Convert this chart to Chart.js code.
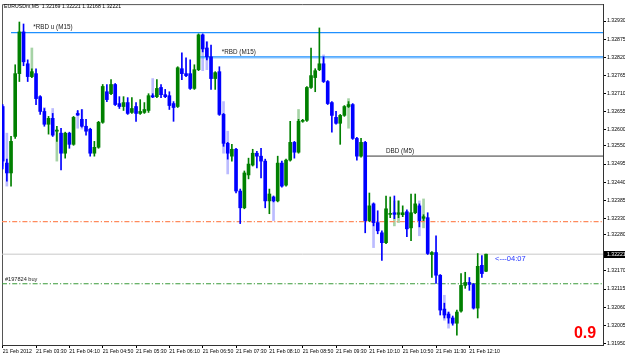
<!DOCTYPE html>
<html><head><meta charset="utf-8">
<script src="https://cdn.jsdelivr.net/npm/chart.js@4.4.1/dist/chart.umd.min.js"></script>
<style>html,body{margin:0;padding:0;background:#fff;}canvas{display:block;}</style>
</head><body>
<canvas id="c" width="625" height="356"></canvas>
<script>
// ---- data (EURUSDm, M5, 21 Feb 2012, bar index 0 = 02:50) ----
const openP  = [1.32670,1.32498,1.32468,1.32579,1.32770,1.32897,1.32800,1.32761,1.32770,1.32700,
1.32655,1.32616,1.32634,1.32595,1.32589,1.32528,1.32589,1.32555,1.32649,1.32631,
1.32610,1.32601,1.32528,1.32546,1.32622,1.32715,1.32709,1.32737,1.32679,1.32670,
1.32682,1.32652,1.32670,1.32649,1.32652,1.32658,1.32703,1.32700,1.32728,1.32706,
1.32703,1.32679,1.32670,1.32785,1.32770,1.32770,1.32725,1.32782,1.32888,1.32848,
1.32821,1.32755,1.32776,1.32646,1.32558,1.32519,1.32540,1.32413,1.32362,1.32462,
1.32492,1.32528,1.32519,1.32504,1.32383,1.32395,1.32383,1.32498,1.32431,1.32507,
1.32561,1.32531,1.32625,1.32628,1.32728,1.32758,1.32782,1.32800,1.32746,1.32682,
1.32637,1.32619,1.32643,1.32670,1.32676,1.32573,1.32519,1.32561,1.32323,1.32374,
1.32317,1.32286,1.32256,1.32342,1.32347,1.32342,1.32341,1.32350,1.32301,1.32347,
1.32368,1.32330,1.32332,1.32220,1.32226,1.32157,1.32054,1.32039,1.32027,1.32011,
1.32048,1.32126,1.32135,1.32129,1.32057,1.32187,1.32169];
const highP  = [1.32676,1.32510,1.32579,1.32797,1.32927,1.32921,1.32812,1.32785,1.32785,1.32703,
1.32664,1.32640,1.32649,1.32610,1.32604,1.32592,1.32592,1.32640,1.32658,1.32661,
1.32631,1.32604,1.32564,1.32625,1.32737,1.32737,1.32752,1.32740,1.32700,1.32700,
1.32697,1.32697,1.32682,1.32691,1.32682,1.32709,1.32709,1.32752,1.32737,1.32722,
1.32715,1.32685,1.32791,1.32833,1.32818,1.32812,1.32797,1.32891,1.32891,1.32867,
1.32857,1.32776,1.32791,1.32649,1.32561,1.32555,1.32543,1.32419,1.32474,1.32513,
1.32540,1.32534,1.32543,1.32510,1.32419,1.32398,1.32519,1.32504,1.32510,1.32625,
1.32564,1.32631,1.32631,1.32731,1.32848,1.32785,1.32909,1.32821,1.32749,1.32685,
1.32655,1.32646,1.32673,1.32685,1.32679,1.32576,1.32573,1.32564,1.32407,1.32377,
1.32353,1.32292,1.32398,1.32395,1.32398,1.32383,1.32368,1.32356,1.32404,1.32404,
1.32374,1.32341,1.32347,1.32229,1.32277,1.32159,1.32072,1.32045,1.32033,1.32051,
1.32162,1.32166,1.32150,1.32132,1.32223,1.32217,1.32221];
const lowP   = [1.32480,1.32443,1.32428,1.32573,1.32746,1.32794,1.32746,1.32758,1.32676,1.32646,
1.32610,1.32586,1.32579,1.32564,1.32477,1.32513,1.32543,1.32552,1.32643,1.32607,
1.32583,1.32519,1.32519,1.32543,1.32619,1.32685,1.32706,1.32673,1.32664,1.32658,
1.32646,1.32649,1.32625,1.32646,1.32649,1.32652,1.32697,1.32697,1.32697,1.32697,
1.32661,1.32625,1.32667,1.32752,1.32761,1.32722,1.32722,1.32779,1.32836,1.32812,
1.32722,1.32722,1.32643,1.32549,1.32510,1.32504,1.32407,1.32314,1.32359,1.32450,
1.32489,1.32483,1.32453,1.32362,1.32344,1.32380,1.32380,1.32425,1.32428,1.32504,
1.32513,1.32528,1.32622,1.32625,1.32725,1.32715,1.32779,1.32743,1.32676,1.32592,
1.32616,1.32555,1.32640,1.32667,1.32570,1.32507,1.32516,1.32286,1.32320,1.32307,
1.32283,1.32202,1.32253,1.32332,1.32329,1.32332,1.32335,1.32274,1.32262,1.32344,
1.32304,1.32323,1.32220,1.32150,1.32132,1.32036,1.32027,1.32011,1.32005,1.31975,
1.32045,1.32117,1.32111,1.32054,1.32027,1.32150,1.32168];
const closeP = [1.32504,1.32468,1.32564,1.32770,1.32897,1.32806,1.32761,1.32776,1.32694,1.32655,
1.32616,1.32634,1.32583,1.32598,1.32528,1.32589,1.32555,1.32637,1.32644,1.32610,
1.32595,1.32528,1.32546,1.32622,1.32731,1.32691,1.32737,1.32676,1.32670,1.32682,
1.32649,1.32664,1.32649,1.32655,1.32661,1.32703,1.32699,1.32725,1.32706,1.32700,
1.32673,1.32667,1.32788,1.32770,1.32764,1.32725,1.32782,1.32888,1.32845,1.32821,
1.32755,1.32773,1.32646,1.32558,1.32528,1.32540,1.32413,1.32362,1.32468,1.32495,
1.32528,1.32519,1.32504,1.32383,1.32404,1.32383,1.32498,1.32428,1.32507,1.32561,
1.32531,1.32625,1.32628,1.32728,1.32764,1.32779,1.32800,1.32746,1.32679,1.32643,
1.32619,1.32643,1.32670,1.32676,1.32573,1.32519,1.32561,1.32323,1.32368,1.32317,
1.32292,1.32256,1.32359,1.32344,1.32342,1.32347,1.32347,1.32298,1.32347,1.32374,
1.32323,1.32335,1.32223,1.32226,1.32157,1.32051,1.32036,1.32027,1.32011,1.32045,
1.32126,1.32135,1.32129,1.32057,1.32184,1.32162,1.32221];

// faint overlay candles
const ghostIdx  = [0,1,7,10,12,13,18,19,36,48,49,53,54,65,71,77,83,89,94,95,100,101,106,107];
const ghostHigh = [1.32573,1.32589,1.32848,1.32667,1.32664,1.32601,1.32655,1.32661,1.32755,1.32845,1.32867,1.32685,1.32595,1.32383,1.32661,1.32827,1.32694,1.32338,1.32383,1.32383,1.32383,1.32389,1.32096,1.32045];
const ghostLow  = [1.32489,1.32428,1.32761,1.32619,1.32625,1.32504,1.32604,1.32601,1.32700,1.32779,1.32782,1.32528,1.32465,1.32323,1.32534,1.32797,1.32604,1.32241,1.32307,1.32317,1.32277,1.32301,1.32020,1.31996];
const ghostBull = [0,0,1,0,0,1,0,0,0,0,0,0,0,0,1,0,1,0,1,1,0,1,0,0];

const timeLabels = ['21 Feb 2012','21 Feb 03:30','21 Feb 04:10','21 Feb 04:50','21 Feb 05:30','21 Feb 06:10','21 Feb 06:50','21 Feb 07:30','21 Feb 08:10','21 Feb 08:50','21 Feb 09:30','21 Feb 10:10','21 Feb 10:50','21 Feb 11:30','21 Feb 12:10'];
const timeTickIdx = [0,8,16,24,32,40,48,56,64,72,80,88,96,104,112];
const priceTicks = [1.32930,1.32875,1.32820,1.32765,1.32710,1.32655,1.32600,1.32550,1.32495,1.32440,1.32385,1.32330,1.32280,1.32170,1.32115,1.32060,1.32005,1.31950];

const rbdU = 1.32895, rbdUFrom = 2.0;
const rbd = 1.32821, rbdFrom = 47.4;
const dbd = 1.32519, dbdFrom = 87.2;
const orangeLevel = 1.32320;
const bidLevel = 1.32221;
const buyLevel = 1.32131;
const titleText = 'EURUSDm,M5  1.32169 1.32221 1.32168 1.32221';

// ---- chart ----
const X_MIN = -0.168, X_MAX = 144.07;
const GREEN = '#008000', BLUE = '#0000ff';
const idx = openP.map((_, i) => i);
const isBull = idx.map(i => closeP[i] >= openP[i]);

function hline(v, from, color, width, dash, order) {
  return { type: 'line', data: [{x: from, y: v}, {x: X_MAX, y: v}], borderColor: color,
    borderWidth: width, borderDash: dash || [], pointRadius: 0, order: order || 6, clip: false };
}

const FONT = '"Liberation Sans", Arial, sans-serif';
const annot = {
  id: 'annot',
  beforeDatasetsDraw(chart) {
    const {ctx, chartArea: a} = chart;
    ctx.save();
    ctx.strokeStyle = '#555'; ctx.lineWidth = 1;
    ctx.beginPath();
    ctx.moveTo(a.left + 0.5, a.bottom); ctx.lineTo(a.left + 0.5, a.top + 0.5); ctx.lineTo(a.right, a.top + 0.5);
    ctx.stroke();
    ctx.restore();
  },
  afterDatasetsDraw(chart) {
    const {ctx, scales: {x, y}, chartArea: a} = chart;
    ctx.save();
    ctx.textAlign = 'left'; ctx.textBaseline = 'middle';
    ctx.fillStyle = '#000';
    ctx.font = '5.2px ' + FONT;
    ctx.fillText(titleText, 4, 6.5);
    ctx.font = '6.3px ' + FONT;
    ctx.fillStyle = '#222';
    ctx.fillText('*RBD u (M15)', x.getPixelForValue(7.35), y.getPixelForValue(rbdU) - 5);
    ctx.fillText('*RBD (M15)', x.getPixelForValue(52.6), y.getPixelForValue(rbd) - 5);
    ctx.fillText('DBD (M5)', x.getPixelForValue(92), y.getPixelForValue(dbd) - 5);
    ctx.font = '5.6px ' + FONT;
    ctx.fillText('#197824 buy', x.getPixelForValue(0.55), y.getPixelForValue(buyLevel) - 4.5);
    ctx.font = '7.5px ' + FONT;
    ctx.fillStyle = '#2233ff';
    ctx.fillText('<---04:07', x.getPixelForValue(118.15), y.getPixelForValue(bidLevel) + 5);
    ctx.font = 'bold 16px ' + FONT;
    ctx.fillStyle = '#ff0000';
    ctx.textAlign = 'center';
    ctx.fillText('0.9', a.right - 18, a.bottom - 11);
    // current price marker on axis
    const py = Math.round(y.getPixelForValue(bidLevel));
    ctx.fillStyle = '#000';
    ctx.fillRect(a.right + 1, py - 3, 21, 7);
    ctx.fillStyle = '#fff';
    ctx.font = '5.2px ' + FONT;
    ctx.textAlign = 'left';
    ctx.fillText(bidLevel.toFixed(5), a.right + 4, py + 0.5);
    ctx.restore();
  }
};

new Chart(document.getElementById('c'), {
  type: 'bar',
  data: {
    datasets: [
      { type: 'bar', data: ghostIdx.map((g, k) => ({x: g, y: [ghostLow[k], ghostHigh[k]]})),
        backgroundColor: ghostBull.map(b => b ? 'rgba(0,128,0,0.35)' : 'rgba(60,60,255,0.35)'),
        barThickness: 2, grouped: false, order: 7 },
      hline(rbdU, rbdUFrom, '#1e90ff', 1.2),
      hline(rbd - 0.00004, rbdFrom, 'rgba(30,144,255,0.35)', 1.2),
      hline(rbd, rbdFrom, '#1e90ff', 1.2),
      hline(dbd, dbdFrom, '#8c8c8c', 1.8),
      hline(orangeLevel, X_MIN, '#ff8a5c', 1.1, [5, 2, 1.2, 2]),
      hline(bidLevel, X_MIN, '#c8c8c8', 1),
      hline(buyLevel, X_MIN, '#3a9a3a', 1.1, [5, 2, 1.2, 2]),
      { type: 'bar', data: idx.map(i => ({x: i, y: [lowP[i], highP[i]]})),
        backgroundColor: idx.map(i => isBull[i] ? GREEN : BLUE),
        barThickness: 1, grouped: false, order: 2 },
      { type: 'bar', data: idx.map(i => ({x: i, y: [openP[i], closeP[i]]})),
        backgroundColor: idx.map(i => isBull[i] ? GREEN : BLUE),
        barThickness: 3, minBarLength: 1, grouped: false, order: 1 }
    ]
  },
  options: {
    responsive: false, animation: false, events: [],
    layout: { padding: { top: 2, left: 2, right: 0, bottom: 0 } },
    plugins: { legend: { display: false }, tooltip: { enabled: false }, title: { display: false } },
    scales: {
      x: {
        type: 'linear', min: X_MIN, max: X_MAX, offset: false,
        grid: { drawOnChartArea: false, drawTicks: true, tickLength: 3, color: '#000', offset: false },
        border: { display: true, color: '#333' },
        afterBuildTicks: s => { s.ticks = timeTickIdx.map(v => ({value: v})); },
        afterFit: s => { s.height = 11; },
        ticks: { autoSkip: false, maxRotation: 0, minRotation: 0, align: 'start', padding: 0,
          color: '#000', font: { size: 5.2, family: FONT },
          callback: (v, i) => timeLabels[i] }
      },
      y: {
        type: 'linear', position: 'right', min: 1.319448, max: 1.329814, beginAtZero: false,
        grid: { drawOnChartArea: false, drawTicks: true, tickLength: 3, color: '#000' },
        border: { display: true, color: '#333' },
        afterBuildTicks: s => { s.ticks = priceTicks.map(v => ({value: v})); },
        afterFit: s => { s.width = 22; },
        ticks: { autoSkip: false, padding: 1, color: '#000', font: { size: 5.2, family: FONT },
          callback: v => Number(v).toFixed(5) }
      }
    }
  },
  plugins: [annot]
});
</script>
</body></html>
